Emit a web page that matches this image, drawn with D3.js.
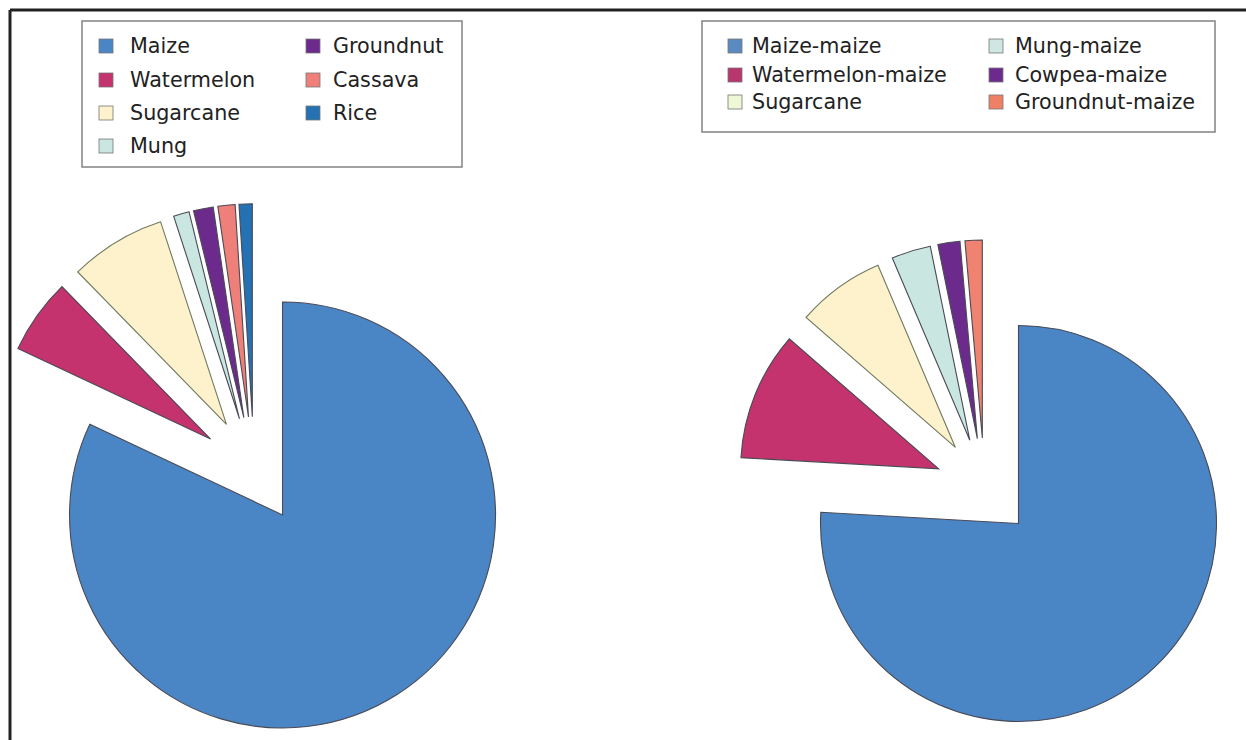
<!DOCTYPE html>
<html>
<head>
<meta charset="utf-8">
<script src="https://cdnjs.cloudflare.com/ajax/libs/d3/7.8.5/d3.min.js"></script>
<style>
  html, body { margin: 0; padding: 0; background: #fff; }
  svg { display: block; }
  text { font-family: "DejaVu Sans", "Liberation Sans", sans-serif; }
</style>
</head>
<body>
<svg id="chart" width="1246" height="740"></svg>
<script>
// ---- Data ----
const leftCategories = ["Maize", "Watermelon", "Sugarcane", "Mung", "Groundnut", "Cassava", "Rice"];
const leftValues = [82.0, 5.7, 7.3, 1.2, 1.5, 1.3, 1.0];
const leftColors = ["#4a86c6", "#c4336d", "#fdf2cb", "#c9e6e1", "#6c2a8c", "#ef8079", "#2472b3"];
const leftLegendOrder = ["Maize", "Watermelon", "Sugarcane", "Mung", "Groundnut", "Cassava", "Rice"];

const rightCategories = ["Maize-maize", "Watermelon-maize", "Sugarcane", "Mung-maize", "Cowpea-maize", "Groundnut-maize"];
const rightValues = [75.9, 10.5, 7.2, 3.2, 1.8, 1.4];
const rightColors = ["#4a86c6", "#c4336d", "#fdf2cb", "#c9e6e1", "#6c2a8c", "#ef8270"];
const rightLegendSwatch = ["#5b8ac2", "#b8366e", "#eef7d6", "#cfe6e2", "#6c2a8c", "#ee8065"];

// ---- Layout ----
const svg = d3.select("#chart");

// frame
svg.append("line").attr("x1", 10).attr("y1", 10).attr("x2", 1246).attr("y2", 10)
  .attr("stroke", "#222").attr("stroke-width", 3);
svg.append("line").attr("x1", 10).attr("y1", 10).attr("x2", 10).attr("y2", 740)
  .attr("stroke", "#222").attr("stroke-width", 3);

function drawPie(cfg) {
  const { cats, vals, colors, cx, cy, r, explode } = cfg;
  const pie = d3.pie().sort(null).startAngle(0).endAngle(2 * Math.PI);
  const arcs = pie(vals);
  const arc = d3.arc().innerRadius(0).outerRadius(r);
  const g = svg.append("g").attr("transform", `translate(${cx},${cy})`);
  g.selectAll("path").data(arcs).enter().append("path")
    .attr("d", arc)
    .attr("transform", d => {
      const mid = (d.startAngle + d.endAngle) / 2;
      const dd = explode * r;
      return `translate(${Math.sin(mid) * dd},${-Math.cos(mid) * dd})`;
    })
    .attr("fill", (d, i) => colors[i])
    .attr("stroke", (d, i) => cats[i] === "Sugarcane" ? "#6f7a62" : "#4a4a55")
    .attr("stroke-width", 1.1)
    .attr("stroke-linejoin", "miter");
}

drawPie({ cats: leftCategories, vals: leftValues, colors: leftColors, cx: 254, cy: 470, r: 213, explode: 0.25 });
drawPie({ cats: rightCategories, vals: rightValues, colors: rightColors, cx: 984.5, cy: 487.5, r: 198, explode: 0.25 });

function drawLegend(cfg) {
  const { box, items, colors, cols, rows, swSize, fontSize } = cfg;
  svg.append("rect")
    .attr("x", box[0]).attr("y", box[1]).attr("width", box[2]).attr("height", box[3])
    .attr("fill", "#fff").attr("stroke", "#8a8a8a").attr("stroke-width", 1.6);
  items.forEach((name, i) => {
    const c = cols[i][0], rw = cols[i][1];
    const y = rows[rw];
    svg.append("rect")
      .attr("x", c.sx).attr("y", y - swSize / 2).attr("width", swSize).attr("height", swSize)
      .attr("fill", colors[i]).attr("stroke", "#777").attr("stroke-width", 0.8);
    svg.append("text")
      .attr("x", c.tx).attr("y", y).attr("dy", "0.36em")
      .attr("font-size", fontSize).attr("fill", "#222")
      .text(name);
  });
}

const L1 = { sx: 99, tx: 130 }, L2 = { sx: 306, tx: 333 };
drawLegend({
  box: [82, 21, 380, 146],
  items: leftLegendOrder,
  colors: leftLegendOrder.map(n => leftColors[leftCategories.indexOf(n)]),
  cols: [[L1, 0], [L1, 1], [L1, 2], [L1, 3], [L2, 0], [L2, 1], [L2, 2]],
  rows: [46, 80, 113, 146],
  swSize: 14,
  fontSize: "20.7px"
});

const R1 = { sx: 728, tx: 752 }, R2 = { sx: 989, tx: 1015 };
drawLegend({
  box: [702, 21, 513, 111],
  items: ["Maize-maize", "Watermelon-maize", "Sugarcane", "Mung-maize", "Cowpea-maize", "Groundnut-maize"],
  colors: rightLegendSwatch,
  cols: [[R1, 0], [R1, 1], [R1, 2], [R2, 0], [R2, 1], [R2, 2]],
  rows: [46, 75, 102],
  swSize: 14,
  fontSize: "20.7px"
});
</script>
</body>
</html>
